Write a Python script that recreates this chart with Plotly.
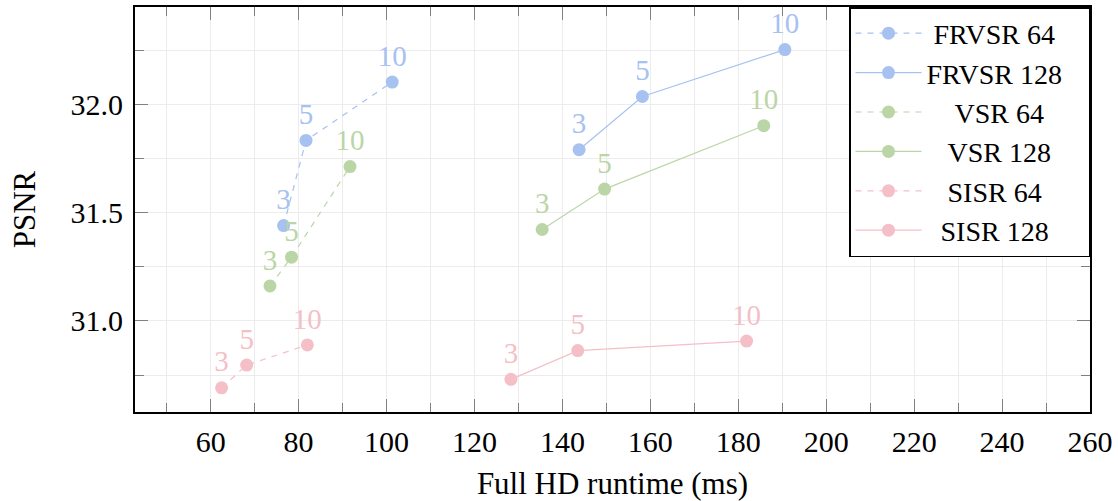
import plotly.graph_objects as go

# ---- data ----
frame_labels = ["3", "5", "10"]

frvsr64_x = [76.6, 81.7, 101.3]
frvsr64_y = [31.441, 31.835, 32.105]
frvsr128_x = [143.8, 158.2, 190.6]
frvsr128_y = [31.792, 32.038, 32.255]

vsr64_x = [73.5, 78.4, 91.7]
vsr64_y = [31.162, 31.295, 31.714]
vsr128_x = [135.4, 149.6, 185.8]
vsr128_y = [31.423, 31.610, 31.903]

sisr64_x = [62.5, 68.2, 82.0]
sisr64_y = [30.691, 30.796, 30.889]
sisr128_x = [128.3, 143.5, 181.9]
sisr128_y = [30.730, 30.863, 30.907]

series_names = ["FRVSR 64", "FRVSR 128", "VSR 64", "VSR 128", "SISR 64", "SISR 128"]

x_tickvals = [60, 80, 100, 120, 140, 160, 180, 200, 220, 240, 260]
x_ticktext = ["60", "80", "100", "120", "140", "160", "180", "200", "220", "240", "260"]
y_tickvals = [31.0, 31.5, 32.0]
y_ticktext = ["31.0", "31.5", "32.0"]

# ---- style ----
BLUE = "#a7c1f1"
GREEN = "#bad6a6"
PINK = "#f5bfc8"
FONT = "Liberation Serif"
legend_pad = [1, 0, 4, 3, 3, 2]
NB = "\u00a0"

series = [
    (frvsr64_x, frvsr64_y, BLUE, "6px,6px"),
    (frvsr128_x, frvsr128_y, BLUE, "solid"),
    (vsr64_x, vsr64_y, GREEN, "6px,6px"),
    (vsr128_x, vsr128_y, GREEN, "solid"),
    (sisr64_x, sisr64_y, PINK, "6px,6px"),
    (sisr128_x, sisr128_y, PINK, "solid"),
]

fig = go.Figure()
for (xs, ys, col, dash), name, pad in zip(series, series_names, legend_pad):
    fig.add_trace(go.Scatter(
        x=xs, y=ys, name=NB * pad + name + NB * 3,
        mode="lines+markers+text",
        text=frame_labels, textposition="top center",
        textfont=dict(family=FONT, size=29, color=col),
        line=dict(color=col, width=1.2, dash=dash),
        marker=dict(color=col, size=13),
    ))

axis_common = dict(
    showline=True, linecolor="black", linewidth=1.8, mirror="ticks",
    ticks="inside", ticklen=13, tickcolor="#808080", tickwidth=1.2,
    showgrid=True, gridcolor="#ececec", gridwidth=1,
    zeroline=False,
    tickfont=dict(family=FONT, size=30, color="black"),
)

fig.update_xaxes(
    **axis_common,
    range=[42.8, 260],
    tickmode="array", tickvals=x_tickvals, ticktext=x_ticktext,
    minor=dict(dtick=10, tick0=0, ticks="inside", ticklen=9, tickcolor="#808080",
               showgrid=True, gridcolor="#ececec"),
    ticklabelstandoff=2,
    title=dict(text="Full HD runtime (ms)", font=dict(family=FONT, size=31, color="black"), standoff=17),
)
fig.update_yaxes(
    **axis_common,
    range=[30.579, 32.452],
    tickmode="array", tickvals=y_tickvals, ticktext=y_ticktext,
    minor=dict(dtick=0.25, tick0=30.0, ticks="inside", ticklen=9, tickcolor="#808080",
               showgrid=True, gridcolor="#ececec"),
    ticklabelstandoff=4,
    title=dict(text="PSNR", font=dict(family=FONT, size=31, color="black"), standoff=26),
)

fig.update_layout(
    width=1118, height=501,
    margin=dict(l=135, r=28, t=7, b=89, autoexpand=False),
    paper_bgcolor="white", plot_bgcolor="white",
    font=dict(family=FONT, color="black"),
    legend=dict(
        x=1, y=1, xanchor="right", yanchor="top",
        bordercolor="black", borderwidth=1.5, bgcolor="white",
        font=dict(family=FONT, size=28, color="black"),
        itemwidth=66, tracegroupgap=0,
    ),
    showlegend=True,
)

fig.write_html("out.html")
